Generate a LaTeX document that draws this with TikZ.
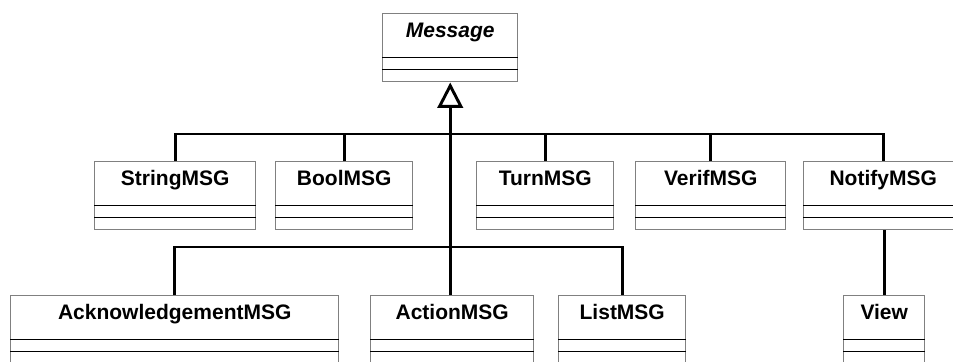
\documentclass[tikz,border=0pt]{standalone}
\usepackage{fontspec}
\setmainfont{Liberation Sans}
\usetikzlibrary{arrows.meta}
\definecolor{boxgray}{RGB}{128,128,128}

% class box: name, left x, top y, width (px), title
\newcommand{\umlclass}[5]{%
    \node[classbox, minimum width=#4*0.75pt, anchor=north west] (#1) at (#2,#3) {};
    \node[classname] (#1-name) at ([yshift=-18pt]#1.north) {#5};
    \draw[compline] ([yshift=-33pt]#1.north west) -- ([yshift=-33pt]#1.north east);
    \draw[compline] ([yshift=-42pt]#1.north west) -- ([yshift=-42pt]#1.north east);
}

\begin{document}
\begin{tikzpicture}[x=0.75pt, y=-0.75pt,
    classbox/.style={draw=boxgray, line width=1.1pt, inner sep=0pt, minimum height=51pt},
    classname/.style={anchor=base, inner sep=0pt, font=\fontsize{15.75pt}{18pt}\selectfont\bfseries},
    compline/.style={draw=black, line width=0.65pt},
    gen/.style={line width=2.2pt}]
    \useasboundingbox (0,0) rectangle (953,361);
    \clip (0,0) rectangle (953,361);
    % Abstract class
    \umlclass{message}{382}{13}{135}{\itshape Message}
    % First row
    \umlclass{string}{94}{161}{161}{StringMSG}
    \umlclass{bool}{275}{161}{137}{BoolMSG}
    \umlclass{turn}{476}{161}{137}{TurnMSG}
    \umlclass{verif}{635}{161}{150}{VerifMSG}
    \umlclass{notify}{803}{161}{159}{NotifyMSG}
    % Second row
    \umlclass{ack}{10}{295}{328}{AcknowledgementMSG}
    \umlclass{action}{370}{295}{163}{ActionMSG}
    \umlclass{list}{558}{295}{127}{ListMSG}
    \umlclass{view}{843}{295}{81}{View}
    % Buses
    \coordinate (upbus) at (0,134);
    \coordinate (lowbus) at (0,247);
    \draw[gen] (string.north) |- (upbus -| notify.north) -- (notify.north);
    \foreach \n in {bool,turn,verif}
        \draw[gen] (\n.north) -- (\n.north |- upbus);
    \draw[gen] (ack.north) |- (lowbus -| list.north) -- (list.north);
    % Generalisation
    \draw[gen, -{Triangle[open, length=19pt, width=19pt]}] (message.south |- action.north) -- (message.south);
    % Notify to View
    \draw[gen] (view.north |- notify.south) -- (view.north);
\end{tikzpicture}
\end{document}
